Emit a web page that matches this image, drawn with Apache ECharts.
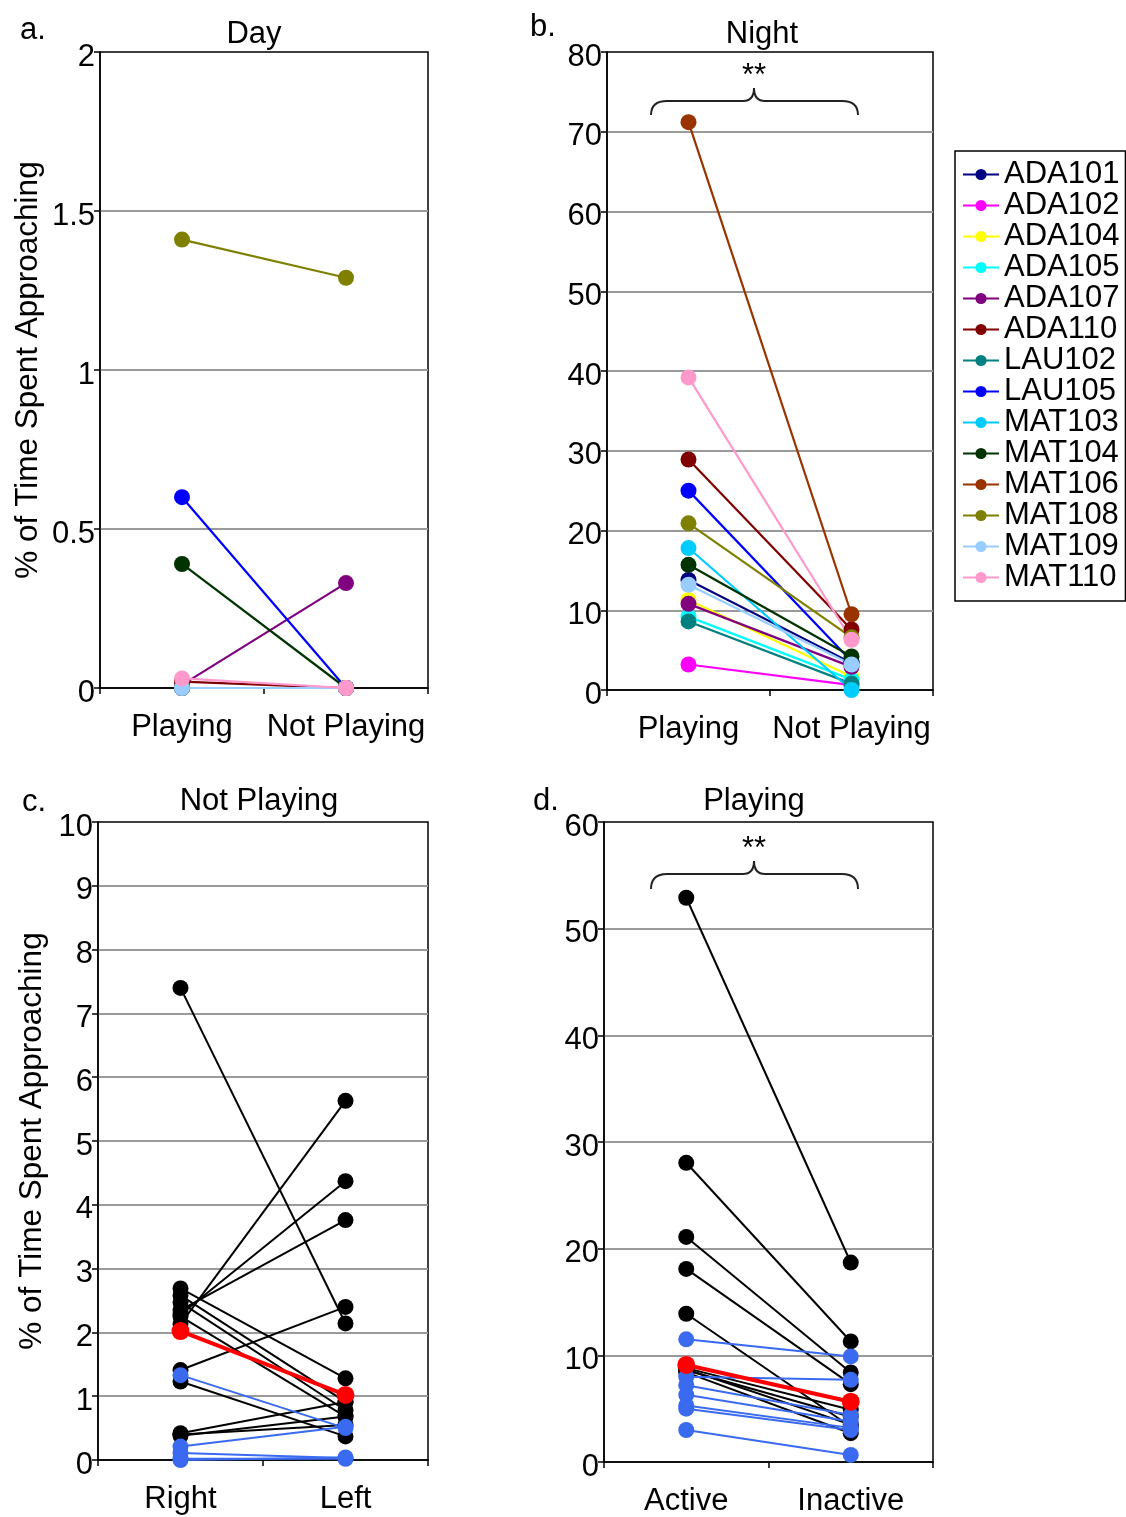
<!DOCTYPE html>
<html>
<head>
<meta charset="utf-8">
<script src="https://cdn.jsdelivr.net/npm/echarts@6/dist/echarts.min.js"></script>
<style>
  html, body { margin: 0; padding: 0; background: #fff; }
  #chart { width: 1126px; height: 1517px; }
</style>
</head>
<body>
<div id="chart"></div>
<script>
// ---- Data ----------------------------------------------------------------
const subjects = ['ADA101', 'ADA102', 'ADA104', 'ADA105', 'ADA107', 'ADA110', 'LAU102',
                  'LAU105', 'MAT103', 'MAT104', 'MAT106', 'MAT108', 'MAT109', 'MAT110'];
const subjectColors = ['#000080', '#ff00ff', '#ffff00', '#00ffff', '#800080', '#800000', '#008080',
                       '#0000ff', '#00ccff', '#003300', '#993300', '#808000', '#99ccff', '#ff99cc'];

// a. Day: [Playing, Not Playing] per subject
const dayCategories = ['Playing', 'Not Playing'];
const dayValues = [
  [0, 0], [0, 0], [0, 0], [0, 0], [0.01, 0.33], [0.02, 0], [0, 0],
  [0.60, 0], [0, 0], [0.39, 0], [0, 0], [1.41, 1.29], [0, 0], [0.03, 0]
];

// b. Night: [Playing, Not Playing] per subject
const nightCategories = ['Playing', 'Not Playing'];
const nightValues = [
  [13.8, 3.4], [3.2, 0.6], [11.3, 1.7], [9.2, 1.3], [10.8, 2.9], [28.9, 7.6], [8.6, 0.8],
  [25.0, 3.6], [17.8, 0.0], [15.7, 4.2], [71.2, 9.5], [20.9, 6.6], [13.2, 3.2], [39.2, 6.3]
];

// c. Not Playing: [Right, Left]
const sideCategories = ['Right', 'Left'];
const sideBlack = [
  [7.40, 2.14], [2.13, 5.63], [2.28, 4.37], [2.35, 3.76], [1.41, 2.40],
  [2.69, 1.28], [2.58, 0.91], [2.47, 0.78], [2.25, 0.68], [1.23, 0.37],
  [0.42, 0.91], [0.40, 0.55], [0.38, 0.68]
];
const sideBlue = [[1.33, 0.50], [0.21, 0.52], [0.11, 0.03], [0.02, 0.02], [0.00, 0.04]];
const sideMean = [2.02, 1.02];

// d. Playing: [Active, Inactive]
const activityCategories = ['Active', 'Inactive'];
const activityBlack = [
  [52.9, 18.7], [28.05, 11.3], [21.1, 8.4], [18.1, 7.3], [13.9, 3.3],
  [8.8, 4.9], [8.6, 4.25], [8.4, 2.7], [8.7, 3.5]
];
const activityBlue = [[11.5, 9.9], [8.0, 7.7], [7.2, 4.4], [6.3, 3.8], [5.3, 3.2], [5.0, 3.0], [3.0, 0.66]];
const activityMean = [9.1, 5.65];

// ---- Styling helpers -----------------------------------------------------
const FONT = '"Liberation Sans", Arial, sans-serif';
const FS = 31;
const BLACK_LINE = '#000000';
const BLUE_LINE = '#3a6af0';
const MEAN_LINE = '#ff0000';

const grids = [
  { left: 100, top: 52, width: 328, height: 636 },   // a
  { left: 607, top: 52, width: 326, height: 638 },   // b
  { left: 98, top: 822, width: 330, height: 638 },   // c
  { left: 604, top: 822, width: 329, height: 640 }   // d
].map(g => Object.assign({ show: true, borderColor: '#000', borderWidth: 1.5, backgroundColor: 'transparent' }, g));

function categoryAxis(gridIndex, cats) {
  return {
    type: 'category', gridIndex, data: cats, boundaryGap: true,
    axisLine: { show: true, lineStyle: { color: '#000', width: 1.5 } },
    axisTick: { show: true, length: 6, alignWithLabel: false, lineStyle: { color: '#000', width: 1.5 } },
    axisLabel: { color: '#000', fontSize: FS, fontFamily: FONT, margin: 24, interval: 0, hideOverlap: false },
    splitLine: { show: false }
  };
}

function valueAxis(gridIndex, max, interval, name, nameGap) {
  const axis = {
    type: 'value', gridIndex, min: 0, max, interval,
    axisLine: { show: true, lineStyle: { color: '#000', width: 1.5 } },
    axisTick: { show: true, length: 6, lineStyle: { color: '#000', width: 1.5 } },
    // labels sit a little below their gridlines
    axisLabel: { color: '#000', fontSize: FS, fontFamily: FONT, margin: 5, verticalAlign: 'top', lineHeight: 10 },
    splitLine: { show: true, showMinLine: false, showMaxLine: false, lineStyle: { color: '#9a9a9a', width: 2 } }
  };
  if (name) {
    Object.assign(axis, {
      name, nameLocation: 'middle', nameGap, nameRotate: 90,
      nameTextStyle: { color: '#000', fontSize: 31.5, fontFamily: FONT }
    });
  }
  return axis;
}

function pairSeries(name, values, axisIndex, color, width, size) {
  return {
    type: 'line', name, data: values, xAxisIndex: axisIndex, yAxisIndex: axisIndex,
    symbol: 'circle', symbolSize: size, showSymbol: true, animation: false,
    lineStyle: { color, width }, itemStyle: { color, borderWidth: 0 },
    emphasis: { disabled: true }
  };
}

const series = [];
subjects.forEach((s, i) => series.push(pairSeries(s, dayValues[i], 0, subjectColors[i], 2.2, 16)));
subjects.forEach((s, i) => series.push(pairSeries(s, nightValues[i], 1, subjectColors[i], 2.2, 16)));
sideBlack.forEach((v, i) => series.push(pairSeries('side-black-' + i, v, 2, BLACK_LINE, 2, 16)));
sideBlue.forEach((v, i) => series.push(pairSeries('side-blue-' + i, v, 2, BLUE_LINE, 2, 16)));
series.push(pairSeries('side-mean', sideMean, 2, MEAN_LINE, 4, 18));
activityBlack.forEach((v, i) => series.push(pairSeries('activity-black-' + i, v, 3, BLACK_LINE, 2, 16)));
activityBlue.forEach((v, i) => series.push(pairSeries('activity-blue-' + i, v, 3, BLUE_LINE, 2, 16)));
series.push(pairSeries('activity-mean', activityMean, 3, MEAN_LINE, 4, 18));

function heading(text, x, top, align) {
  return {
    text, left: x, top, textAlign: align, padding: 0,
    textStyle: { fontSize: FS, fontWeight: 'normal', color: '#000', fontFamily: FONT }
  };
}

// curly brace spanning both categories, built from quadratic curves and straight segments
const braceStyle = { fill: 'none', stroke: '#222', lineWidth: 2 };
function quad(x1, y1, cx, cy, x2, y2) {
  return { type: 'bezierCurve', silent: true, shape: { x1, y1, x2, y2, cpx1: cx, cpy1: cy }, style: braceStyle };
}
function seg(x1, y1, x2, y2) {
  return { type: 'line', silent: true, shape: { x1, y1, x2, y2 }, style: braceStyle };
}
function brace(x0, x1, xm, yTip, yBar, yPeak) {
  const r = 16, k = 11;
  return [
    quad(x0, yTip, x0, yBar, x0 + r, yBar),
    seg(x0 + r, yBar, xm - k, yBar),
    quad(xm - k, yBar, xm, yBar, xm, yPeak),
    quad(xm, yPeak, xm, yBar, xm + k, yBar),
    seg(xm + k, yBar, x1 - r, yBar),
    quad(x1 - r, yBar, x1, yBar, x1, yTip)
  ];
}
function stars(x, top) {
  return {
    type: 'text', silent: true, x: x, y: top,
    style: { text: '**', fontSize: FS, fontFamily: FONT, fill: '#000', align: 'center', verticalAlign: 'top' }
  };
}

const chart = echarts.init(document.getElementById('chart'), null, { renderer: 'canvas' });
chart.setOption({
  backgroundColor: '#fff',
  animation: false,
  textStyle: { fontFamily: FONT },
  title: [
    heading('a.', 20, 15, 'left'),
    heading('Day', 254, 19, 'center'),
    heading('b.', 530, 12, 'left'),
    heading('Night', 762, 19, 'center'),
    heading('c.', 22, 787, 'left'),
    heading('Not Playing', 259, 786, 'center'),
    heading('d.', 533, 786, 'left'),
    heading('Playing', 754, 786, 'center')
  ],
  legend: {
    data: subjects, orient: 'vertical', left: 955, top: 151,
    itemWidth: 36, itemHeight: 14, itemGap: 0,
    padding: [8, 6, 8, 7], borderColor: '#000', borderWidth: 1.5, backgroundColor: '#fff',
    selectedMode: false,
    textStyle: { fontSize: 31, lineHeight: 31, color: '#000', fontFamily: FONT }
  },
  grid: grids,
  xAxis: [
    categoryAxis(0, dayCategories),
    categoryAxis(1, nightCategories),
    categoryAxis(2, sideCategories),
    categoryAxis(3, activityCategories)
  ],
  yAxis: [
    valueAxis(0, 2, 0.5, '% of Time Spent Approaching', 56),
    valueAxis(1, 80, 10),
    valueAxis(2, 10, 1, '% of Time Spent Approaching', 50),
    valueAxis(3, 60, 10)
  ],
  series,
  graphic: [].concat(
    brace(651, 858, 754, 115, 101, 88),
    [stars(754, 61)],
    brace(651, 858, 754, 889, 874, 861),
    [stars(754, 834)]
  )
});
</script>
</body>
</html>
